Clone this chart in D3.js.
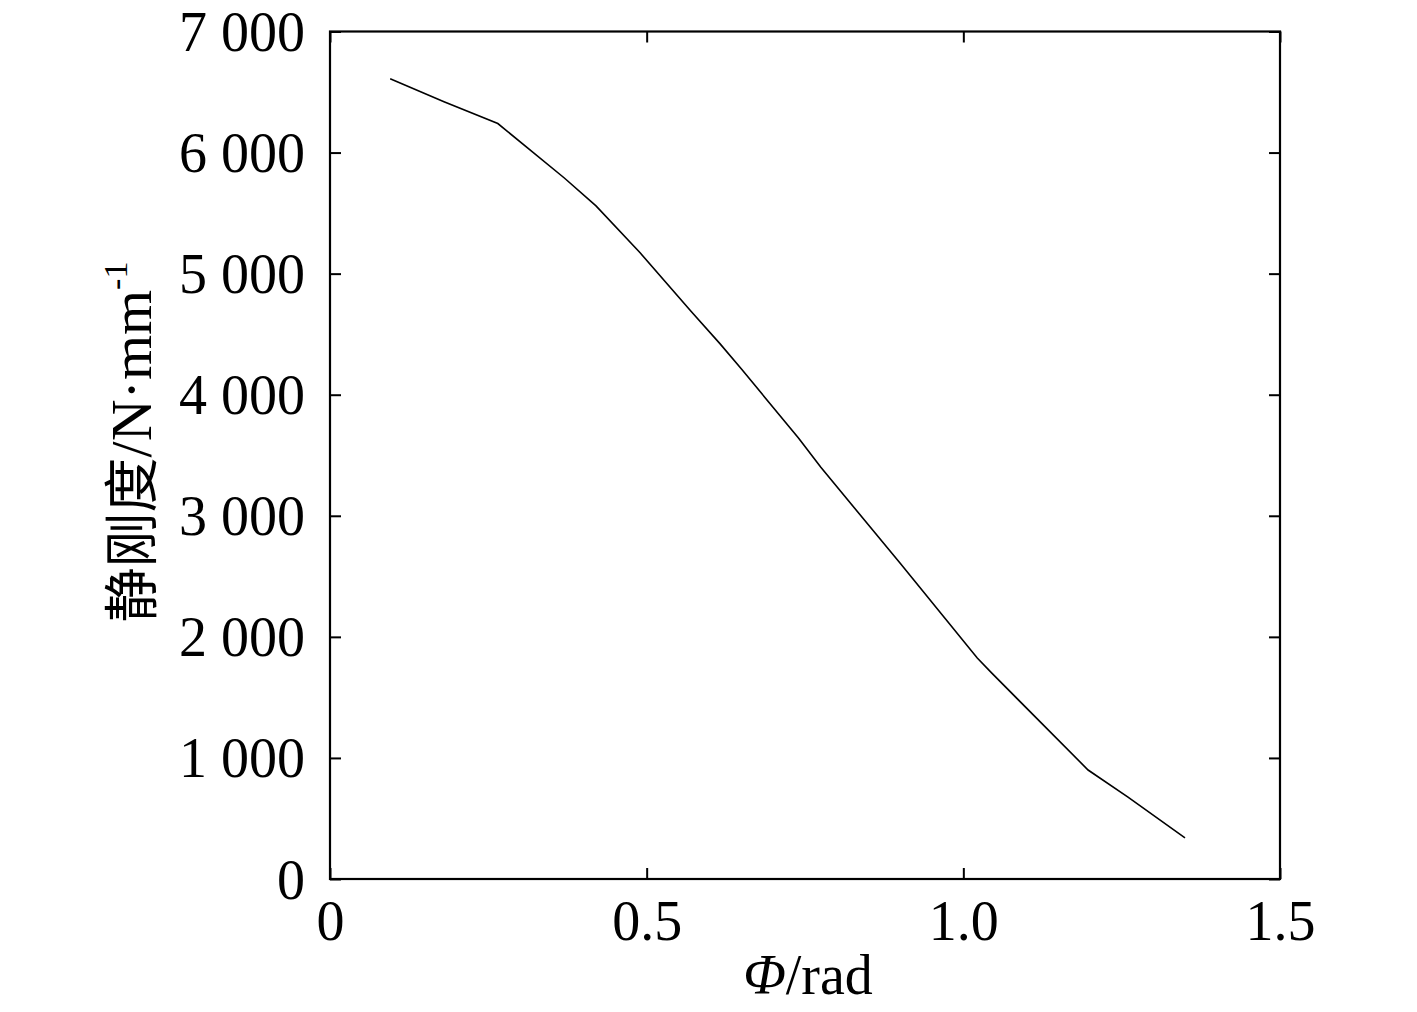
<!DOCTYPE html>
<html><head><meta charset="utf-8">
<script src="https://cdn.jsdelivr.net/npm/d3@7"></script>
<style>body{margin:0;background:#fff}</style>
</head><body>
<svg id="c" width="1417" height="1012"></svg>
<script>
const phi = [0.095, 0.18, 0.265, 0.37, 0.42, 0.49, 0.57, 0.616, 0.65, 0.74, 0.775, 0.9, 1.022, 1.045, 1.197, 1.26, 1.35];
const stiffness = [6610, 6420, 6240, 5790, 5560, 5170, 4690, 4420, 4210, 3640, 3400, 2610, 1825, 1700, 900, 677, 339];
const xTicks = [0, 0.5, 1.0, 1.5];
const xTickLabels = ["0", "0.5", "1.0", "1.5"];
const yTicks = [0, 1000, 2000, 3000, 4000, 5000, 6000, 7000];
const yTickLabels = ["0", "1 000", "2 000", "3 000", "4 000", "5 000", "6 000", "7 000"];

const svg = d3.select("#c");
const L = 330, R = 1280, T = 31.5, B = 879;
const x = d3.scaleLinear().domain([0, 1.5]).range([L, R]);
const y = d3.scaleLinear().domain([0, 7000]).range([B, T]);
const serif = "'Liberation Serif','Times New Roman',serif";
const tl = 11;

const g = svg.append("g");
g.append("rect").attr("x", L).attr("y", T).attr("width", R - L).attr("height", B - T)
  .attr("fill", "none").attr("stroke", "#000").attr("stroke-width", 2.2);

const xb = g.append("g").attr("transform", `translate(0,${B})`)
  .call(d3.axisBottom(x).tickValues(xTicks).tickSizeInner(-tl).tickSizeOuter(0)
    .tickFormat((d, i) => xTickLabels[i]));
const xt = g.append("g").attr("transform", `translate(0,${T})`)
  .call(d3.axisTop(x).tickValues(xTicks).tickSizeInner(-tl).tickSizeOuter(0).tickFormat(""));
const yl = g.append("g").attr("transform", `translate(${L},0)`)
  .call(d3.axisLeft(y).tickValues(yTicks).tickSizeInner(-tl).tickSizeOuter(0)
    .tickFormat((d, i) => yTickLabels[i]));
const yr = g.append("g").attr("transform", `translate(${R},0)`)
  .call(d3.axisRight(y).tickValues(yTicks).tickSizeInner(-tl).tickSizeOuter(0).tickFormat(""));
[xb, xt, yl, yr].forEach(a => {
  a.select(".domain").remove();
  a.selectAll(".tick line").attr("stroke", "#000").attr("stroke-width", 2);
  a.selectAll("text").attr("font-family", serif).attr("font-size", 56).attr("fill", "#000");
});
xb.selectAll("text").attr("dy", null).attr("y", 61);
yl.selectAll("text").attr("x", -25).attr("dy", "0.34em");

g.append("path").datum(phi.map((p, i) => [p, stiffness[i]]))
  .attr("d", d3.line().x(d => x(d[0])).y(d => y(d[1])))
  .attr("fill", "none").attr("stroke", "#000").attr("stroke-width", 1.6);

const xtit = svg.append("text").attr("x", 808).attr("y", 994).attr("text-anchor", "middle")
  .attr("font-family", serif).attr("font-size", 56).attr("fill", "#000");
xtit.append("tspan").attr("font-style", "italic").text("Φ");
xtit.append("tspan").text("/rad");

const ytit = svg.append("text").attr("transform", "translate(151,442) rotate(-90)")
  .attr("text-anchor", "middle").attr("font-family", serif).attr("font-size", 58).attr("fill", "#000");
ytit.append("tspan").attr("font-family", "'Noto Sans CJK SC'").attr("font-size", 55).text("静刚度");
ytit.append("tspan").text("/N·mm");
ytit.append("tspan").attr("font-size", 34).attr("dy", -24).text("-1");
</script>
</body></html>
